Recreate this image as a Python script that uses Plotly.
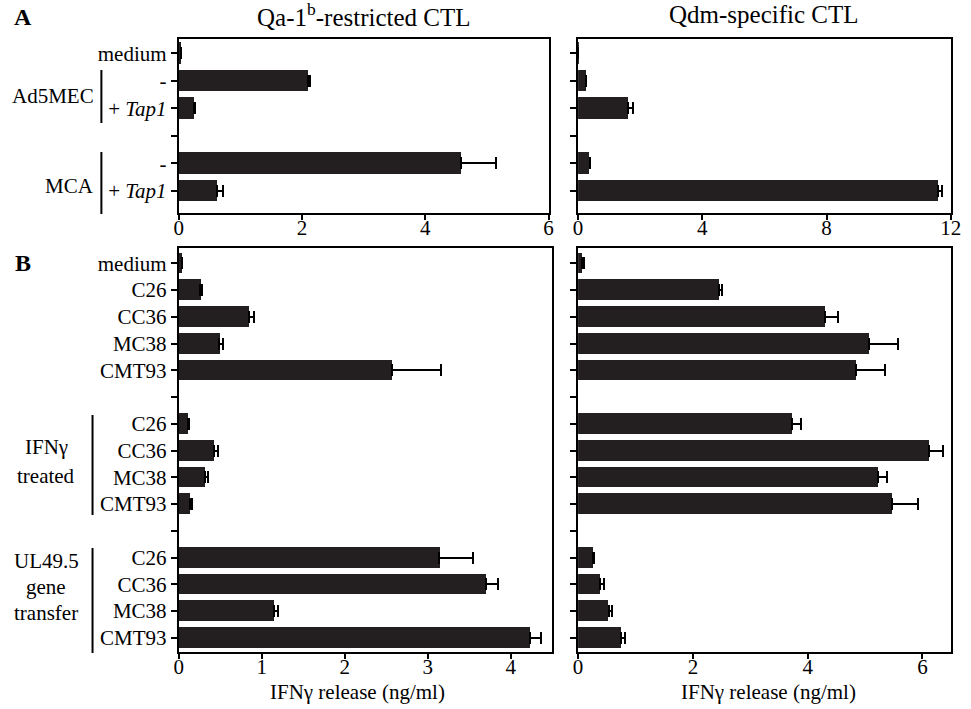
import plotly.graph_objects as go

# ---------------- data ----------------
BL = "\u00a0"  # blank spacer category
a_labels = ["medium", "-", "+ <i>Tap1</i>", BL, "-", "+ <i>Tap1</i>"]
a_qa1_vals = [0.04, 2.09, 0.25, None, 4.58, 0.62]
a_qa1_err = [0.0, 0.04, 0.02, 0.0, 0.57, 0.10]
a_qdm_vals = [0.01, 0.26, 1.62, None, 0.37, 11.58]
a_qdm_err = [0.0, 0.0, 0.16, 0.0, 0.0, 0.12]

b_labels = ["medium", "C26", "CC36", "MC38", "CMT93", BL,
            "C26", "CC36", "MC38", "CMT93", BL,
            "C26", "CC36", "MC38", "CMT93"]
b_qa1_vals = [0.04, 0.26, 0.84, 0.49, 2.57, None,
              0.11, 0.42, 0.31, 0.13, None,
              3.14, 3.70, 1.15, 4.23]
b_qa1_err = [0.0, 0.02, 0.07, 0.04, 0.59, 0.0,
             0.01, 0.05, 0.04, 0.03, 0.0,
             0.40, 0.14, 0.05, 0.13]
b_qdm_vals = [0.07, 2.46, 4.30, 5.07, 4.85, None,
              3.73, 6.11, 5.22, 5.47, None,
              0.26, 0.39, 0.53, 0.75]
b_qdm_err = [0.03, 0.04, 0.22, 0.51, 0.49, 0.0,
             0.15, 0.25, 0.17, 0.45, 0.0,
             0.02, 0.07, 0.06, 0.06]

a_xticks_left = [0, 2, 4, 6]
a_xticks_right = [0, 4, 8, 12]
b_xticks_left = [0, 1, 2, 3, 4]
b_xticks_right = [0, 2, 4, 6]

x_title = "IFN\u03b3 release (ng/ml)"

# ---------------- style ----------------
W, H = 971, 709
FONT = "Liberation Serif, Times New Roman, serif"
BAR = "#231f20"
FS = 21

def px(x):
    return x / W

def py(y):
    return 1 - y / H

fig = go.Figure()

panels = [
    ("x", "y", a_qa1_vals, a_qa1_err, len(a_labels)),
    ("x2", "y2", a_qdm_vals, a_qdm_err, len(a_labels)),
    ("x3", "y3", b_qa1_vals, b_qa1_err, len(b_labels)),
    ("x4", "y4", b_qdm_vals, b_qdm_err, len(b_labels)),
]
for xa, ya, vals, errs, n in panels:
    fig.add_trace(go.Bar(
        x=vals, y=list(range(n)), orientation="h",
        xaxis=xa, yaxis=ya, width=0.78,
        marker=dict(color=BAR, line=dict(width=0)),
        error_x=dict(type="data", array=errs, arrayminus=[0] * n,
                     symmetric=False, color="black", thickness=2, width=6),
        showlegend=False,
    ))

common_x = dict(showline=True, linecolor="black", linewidth=2, mirror=True,
                ticks="outside", ticklen=5, tickwidth=2, tickcolor="black",
                showgrid=False, zeroline=False, ticklabeloverflow="allow",
                ticklabelstandoff=-10,
                tickfont=dict(family=FONT, size=FS, color="black"))
common_y = dict(showline=True, linecolor="black", linewidth=2, mirror=True,
                ticks="outside", ticklen=6, tickwidth=2, tickcolor="black",
                showgrid=False, zeroline=False,
                tickfont=dict(family=FONT, size=FS, color="black"))

xA_l = [px(176.7), px(552.7)]
xA_r = [px(582.7), px(961.7)]
xB_l = [px(176.7), px(556.5)]
xB_r = [px(582.7), px(962.0)]
yA = [py(212.7), py(39.3)]
yB = [py(651.7), py(248.3)]

fig.update_layout(
    width=W, height=H,
    margin=dict(l=0, r=0, t=0, b=0),
    paper_bgcolor="white", plot_bgcolor="white",
    bargap=0,
    xaxis=dict(common_x, domain=xA_l, anchor="y", range=[0, 6], tickvals=a_xticks_left),
    yaxis=dict(common_y, domain=yA, anchor="x", range=[5.79, -0.51],
               tickvals=list(range(len(a_labels))), ticktext=a_labels),
    xaxis2=dict(common_x, domain=xA_r, anchor="y2", range=[0, 12], tickvals=a_xticks_right),
    yaxis2=dict(common_y, domain=yA, anchor="x2", range=[5.79, -0.51],
                tickvals=list(range(len(a_labels))), showticklabels=False),
    xaxis3=dict(common_x, domain=xB_l, anchor="y3", range=[0, 4.5], tickvals=b_xticks_left),
    yaxis3=dict(common_y, domain=yB, anchor="x3", range=[14.52, -0.56],
                tickvals=list(range(len(b_labels))), ticktext=b_labels),
    xaxis4=dict(common_x, domain=xB_r, anchor="y4", range=[0, 6.5], tickvals=b_xticks_right),
    yaxis4=dict(common_y, domain=yB, anchor="x4", range=[14.52, -0.56],
                tickvals=list(range(len(b_labels))), showticklabels=False),
)

ann = []
def text(x, y, s, size=FS, xanchor="center", bold=False):
    ann.append(dict(x=px(x), y=py(y), xref="paper", yref="paper", text=("<b>%s</b>" % s) if bold else s,
                    showarrow=False, xanchor=xanchor, yanchor="middle",
                    font=dict(family=FONT, size=size, color="black")))

text(18, 17, "A", size=24, bold=True)
text(18, 263, "B", size=24, bold=True)
text(365, 15, "Qa-1<sup>b</sup>-restricted CTL", size=25)
text(772, 15, "Qdm-specific CTL", size=25)
text(93, 96, "Ad5MEC", xanchor="right")
text(93, 186, "MCA", xanchor="right")
text(42, 447, "IFN\u03b3")
text(42, 476, "treated")
text(42, 561, "UL49.5")
text(42, 587, "gene")
text(42, 613, "transfer")
text(358, 692, x_title)
text(776, 692, x_title)
fig.update_layout(annotations=ann)

shapes = []
def vline(x, y0, y1):
    shapes.append(dict(type="line", xref="paper", yref="paper",
                       x0=px(x), x1=px(x), y0=py(y0), y1=py(y1),
                       line=dict(color="black", width=2)))
vline(98, 70, 123)
vline(98, 152, 214)
vline(89, 415, 515)
vline(89, 548, 653)
fig.update_layout(shapes=shapes)

fig.write_html("out.html", config={"displayModeBar": False},
               post_script="document.body.style.margin='0';")
